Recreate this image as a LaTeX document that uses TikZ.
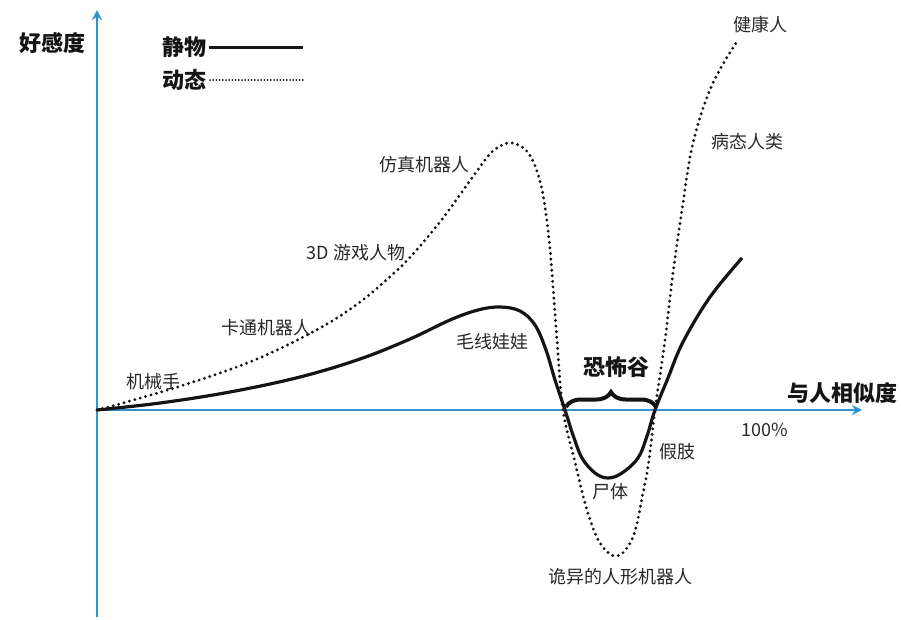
\documentclass[tikz,border=0pt]{standalone}
\usepackage{fontspec}
\setmainfont{Noto Sans CJK SC}
\usetikzlibrary{decorations.pathreplacing,arrows.meta}
\definecolor{axisblue}{RGB}{45,150,210}
\definecolor{txt}{RGB}{40,40,40}
\definecolor{ink}{RGB}{20,20,20}
\begin{document}
\begin{tikzpicture}[x=1pt,y=-1pt,
  lbl/.style={font=\fontsize{18}{18}\selectfont, text=txt, inner sep=0pt},
  blbl/.style={font=\fontsize{22}{22}\selectfont\bfseries, text=ink, inner sep=0pt},
  solidc/.style={line width=3.2pt, ink},
  dotc/.style={line width=3.2pt, dash pattern=on 0pt off 5.6pt, line cap=round, ink},
  axisline/.style={line width=2.8pt, axisblue, -{Stealth[length=10pt,width=10pt]}}]
\useasboundingbox (0,0) rectangle (901,619);
% axes
\coordinate (o) at (97,410);
\coordinate (ytop) at (97,10);
\coordinate (ybot) at (97,617);
\coordinate (xend) at (862,410);
\draw[axisline] (ybot) -- (ytop);
\draw[axisline] (o) -- (xend);
% solid curve
\draw[solidc] plot[smooth, tension=0.6] coordinates {
 (97,410) (160,403) (230,392) (300,377) (360,359) (410,339) (450,320) (478,310)
 (500,307) (520,311) (535,325) (546,350) (555,380) (565,410) (573,435) (582,458)
 (595,473) (608,478) (622,473) (638,458) (647,436) (655,410) (668,378) (683,342)
 (710,297) (742,258)};
% dotted curve
\draw[dotc] plot[smooth, tension=0.6] coordinates {
 (97,410) (123,403) (190,383) (257,359) (320,328) (360,302) (393,274) (413,254)
 (443,218) (477,171) (494,150) (512,143) (529,154) (541,185) (548,230) (552,273)
 (557,340) (563,410) (575,462) (587,510) (600,543) (617,556) (633,537) (643,493)
 (649,460) (655,410) (665,340) (673,273) (682,210) (693,143) (712,85) (738,40)};
% brace
\coordinate (bl) at (566,407);
\coordinate (br) at (656,407);
\draw[line width=4pt, ink, decorate, decoration={brace, amplitude=15pt}] (bl) -- (br);
% legend
\node[blbl, anchor=east] (lgs) at (207,47) {静物};
\node[blbl, anchor=east] (lgd) at (207,80) {动态};
\coordinate (lgsend) at (303,47);
\coordinate (lgdend) at (303,80);
\draw[line width=3pt, ink] (lgs.east) ++(2,0) -- (lgsend);
\draw[line width=2pt, ink, dash pattern=on 0pt off 3.2pt, line cap=round] (lgd.east) ++(3,0) -- (lgdend);
% labels
\node[blbl] (ylab) at (52,43) {好感度};
\node[blbl] (xlab) at (842,393) {与人相似度};
\node[blbl] (uv) at (616,367) {恐怖谷};
\node[lbl] (l1) at (760,25) {健康人};
\node[lbl] (l2) at (747,142) {病态人类};
\node[lbl] (l3) at (424,165) {仿真机器人};
\node[lbl] (l4) at (356,253) {3D 游戏人物};
\node[lbl] (l5) at (266,328) {卡通机器人};
\node[lbl] (l6) at (492,342) {毛线娃娃};
\node[lbl] (l7) at (153,382) {机械手};
\node[lbl] (l8) at (765,430) {100\%};
\node[lbl] (l9) at (677,452) {假肢};
\node[lbl] (l10) at (610,492) {尸体};
\node[lbl] (l11) at (620,577) {诡异的人形机器人};
\end{tikzpicture}
\end{document}
